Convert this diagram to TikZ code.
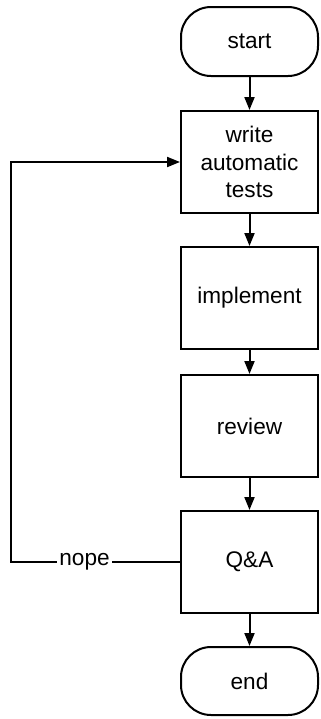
\documentclass[tikz,border=0pt]{standalone}
\usepackage{fontspec}
\setmainfont{Liberation Sans}
\usetikzlibrary{arrows.meta, positioning}
\tikzset{>/.tip={Triangle[length=6.5pt,width=5pt]}}

\begin{document}
\begin{tikzpicture}[node distance=16pt, line width=1pt,
  every node/.style={font=\fontsize{11.3}{13.8}\selectfont, align=center},
  terminal/.style={draw, rounded corners=15pt, minimum width=68.5pt, minimum height=34.5pt},
  stepbox/.style={draw, minimum width=68.5pt, minimum height=51pt}]
  \useasboundingbox (0,0) rectangle (160.5pt,-359.5pt);
  \node(start) [terminal] at (124.75pt,-20.75pt) {start};
  \node(write) [stepbox, below=16.5pt of start] {write\\automatic\\tests};
  \node(impl) [stepbox, below=of write] {implement};
  \node(review) [stepbox, below=12pt of impl] {review};
  \node(qa) [stepbox, below=of review] {Q\&A};
  \node(end) [terminal, minimum height=34pt, below=of qa] {end};
  \coordinate(loop) at (5.5pt,0);
  \draw[->]
   (start) edge (write)
   (write) edge (impl)
   (impl) edge (review)
   (review) edge (qa)
   (qa) edge (end);
  \draw[->] (qa.west) -- node[fill=white, inner sep=1pt, pos=0.565]{nope} (qa.west -| loop) |- (write.west);
\end{tikzpicture}
\end{document}
